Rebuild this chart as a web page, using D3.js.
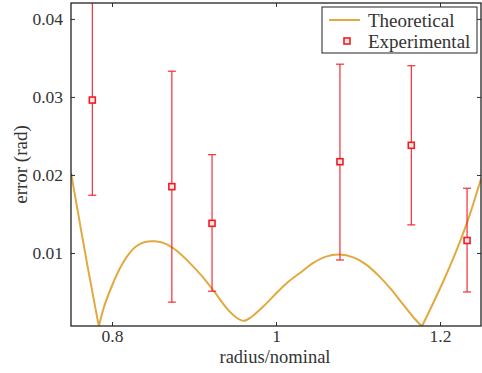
<!DOCTYPE html>
<html>
<head>
<meta charset="utf-8">
<script src="https://cdn.jsdelivr.net/npm/d3@7"></script>
<style>
  body { margin: 0; background: #fff; }
  text { font-family: "Liberation Serif", "DejaVu Serif", serif; fill: #333; }
</style>
</head>
<body>
<div id="chart"></div>
<script>
const MARGIN = { LEFT: 71, RIGHT: 1, TOP: 3, BOTTOM: 47 };
const WIDTH = 482 - MARGIN.LEFT - MARGIN.RIGHT;
const HEIGHT = 373 - MARGIN.TOP - MARGIN.BOTTOM;

// theoretical curve
const theoryX = [0.750, 0.760, 0.770, 0.780, 0.784, 0.790, 0.800, 0.810, 0.820, 0.830,
  0.840, 0.852, 0.865, 0.880, 0.895, 0.910, 0.925, 0.940, 0.952, 0.961,
  0.970, 0.985, 1.000, 1.015, 1.030, 1.045, 1.060, 1.077, 1.095, 1.110,
  1.125, 1.140, 1.155, 1.168, 1.178, 1.190, 1.205, 1.220, 1.235, 1.250];
const theoryY = [0.0203, 0.0143, 0.0084, 0.0028, 0.0006, 0.0030, 0.0058, 0.0081, 0.0098, 0.0109,
  0.0114, 0.0115, 0.0112, 0.0102, 0.0087, 0.0070, 0.0050, 0.0029, 0.0017, 0.0013,
  0.0018, 0.0032, 0.0048, 0.0063, 0.0075, 0.0087, 0.0095, 0.0098, 0.0094, 0.0085,
  0.0071, 0.0054, 0.0034, 0.0017, 0.0006, 0.0032, 0.0066, 0.0103, 0.0145, 0.0195];

// experimental points with error bars
const expX = [0.776, 0.873, 0.922, 1.078, 1.165, 1.233];
const expY = [0.0296, 0.0185, 0.0138, 0.0217, 0.0238, 0.0116];
const expLo = [0.0174, 0.0037, 0.0051, 0.0091, 0.0136, 0.0050];
const expHi = [0.0430, 0.0333, 0.0226, 0.0342, 0.0340, 0.0183];

const xTicks = [0.8, 1, 1.2];
const yTicks = [0.01, 0.02, 0.03, 0.04];

const RED = "#f01c24";
const GOLD = "#e2a941";

const svg = d3.select("#chart").append("svg")
  .attr("width", 482).attr("height", 373);

const g = svg.append("g")
  .attr("transform", `translate(${MARGIN.LEFT}, ${MARGIN.TOP})`);

const x = d3.scaleLinear().domain([0.75, 1.25]).range([0, WIDTH]);
const y = d3.scaleLinear().domain([0.00064, 0.04204]).range([HEIGHT, 0]);

g.append("clipPath").attr("id", "clip")
  .append("rect").attr("width", WIDTH).attr("height", HEIGHT);

const plot = g.append("g").attr("clip-path", "url(#clip)");

// theoretical line: split at the sharp minima so each arc stays smooth
const theory = theoryX.map((d, i) => ({ x: d, y: theoryY[i] }));
const cuts = [0];
theory.forEach((d, i) => {
  if (i > 0 && i < theory.length - 1 && d.y < theory[i - 1].y && d.y < theory[i + 1].y && d.y < 0.001) cuts.push(i);
});
cuts.push(theory.length - 1);
const line = d3.line().x((d) => x(d.x)).y((d) => y(d.y)).curve(d3.curveCatmullRom.alpha(0.5));
const pathD = d3.range(cuts.length - 1)
  .map((k) => line(theory.slice(cuts[k], cuts[k + 1] + 1)))
  .join("");
plot.append("path")
  .attr("fill", "none")
  .attr("stroke", GOLD)
  .attr("stroke-width", 2)
  .attr("stroke-linejoin", "round")
  .attr("d", pathD);

// error bars
const exp = expX.map((d, i) => ({ x: d, y: expY[i], lo: expLo[i], hi: expHi[i] }));
const bars = plot.selectAll(".bar").data(exp).enter().append("g").attr("class", "bar")
  .attr("stroke", RED).attr("stroke-width", 1.1);
bars.append("line")
  .attr("x1", (d) => x(d.x)).attr("x2", (d) => x(d.x))
  .attr("y1", (d) => y(d.lo)).attr("y2", (d) => y(d.hi));
bars.append("line")
  .attr("x1", (d) => x(d.x) - 4).attr("x2", (d) => x(d.x) + 4)
  .attr("y1", (d) => y(d.lo)).attr("y2", (d) => y(d.lo));
bars.append("line")
  .attr("x1", (d) => x(d.x) - 4).attr("x2", (d) => x(d.x) + 4)
  .attr("y1", (d) => y(d.hi)).attr("y2", (d) => y(d.hi));
bars.append("rect")
  .attr("x", (d) => x(d.x) - 3).attr("y", (d) => y(d.y) - 3)
  .attr("width", 6).attr("height", 6)
  .attr("fill", "#fde8e8").attr("stroke-width", 1.6);

// axes with inward ticks on all four sides
const xAxis = g.append("g").attr("transform", `translate(0, ${HEIGHT})`)
  .call(d3.axisBottom(x).tickValues(xTicks).tickSize(-4).tickPadding(4).tickFormat(d3.format("")));
const xTop = g.append("g")
  .call(d3.axisTop(x).tickValues(xTicks).tickSize(-4).tickFormat(""));
const yAxis = g.append("g")
  .call(d3.axisLeft(y).tickValues(yTicks).tickSize(-4).tickPadding(8).tickFormat(d3.format("")));
const yRight = g.append("g").attr("transform", `translate(${WIDTH}, 0)`)
  .call(d3.axisRight(y).tickValues(yTicks).tickSize(-4).tickFormat(""));

[xAxis, xTop, yAxis, yRight].forEach((a) => {
  a.select(".domain").remove();
  a.selectAll(".tick line").attr("stroke", "#333").attr("stroke-width", 1);
  a.selectAll("text").attr("font-size", "17.5px").attr("fill", "#333")
    .style("font-family", '"Liberation Serif", serif');
});

g.append("rect")
  .attr("width", WIDTH).attr("height", HEIGHT)
  .attr("fill", "none").attr("stroke", "#222").attr("stroke-width", 1.3);

// axis labels
g.append("text")
  .attr("x", WIDTH / 2 - 1).attr("y", HEIGHT + 37)
  .attr("font-size", "18.5px").attr("text-anchor", "middle")
  .text("radius/nominal");

g.append("text")
  .attr("transform", "rotate(-90)")
  .attr("x", -HEIGHT / 2).attr("y", -44)
  .attr("font-size", "19px").attr("text-anchor", "middle")
  .text("error (rad)");

// legend
const legend = svg.append("g").attr("transform", "translate(322, 7)");
legend.append("rect")
  .attr("width", 155).attr("height", 46)
  .attr("fill", "#fff").attr("stroke", "#222").attr("stroke-width", 1);
legend.append("line")
  .attr("x1", 7).attr("x2", 38).attr("y1", 13).attr("y2", 13)
  .attr("stroke", GOLD).attr("stroke-width", 2);
legend.append("rect")
  .attr("x", 22).attr("y", 31).attr("width", 6).attr("height", 6)
  .attr("fill", "#fde8e8").attr("stroke", RED).attr("stroke-width", 1.6);
legend.append("text").attr("x", 46).attr("y", 20).attr("font-size", "19px").text("Theoretical");
legend.append("text").attr("x", 46).attr("y", 41).attr("font-size", "19px").text("Experimental");
</script>
</body>
</html>
